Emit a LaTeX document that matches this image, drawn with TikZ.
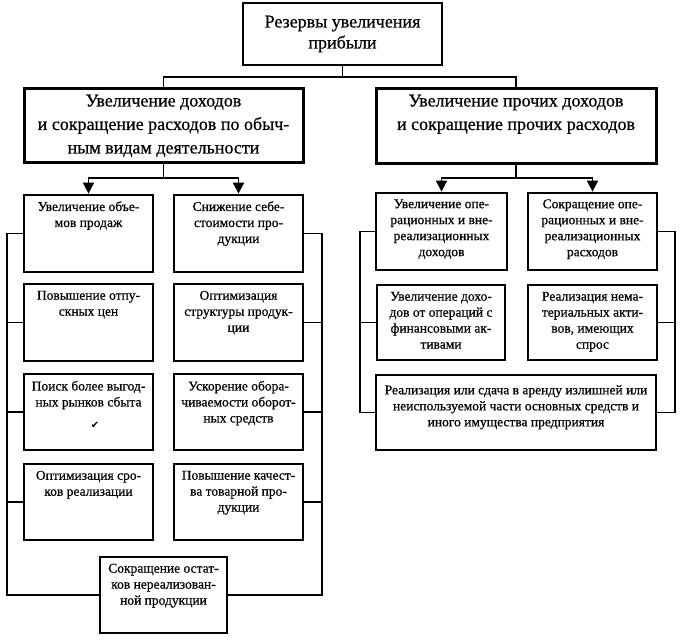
\documentclass[tikz,border=0pt]{standalone}
\usepackage{fontspec}
\setmainfont{Liberation Serif}[FakeBold=0.6]
\newfontfamily\symfont{DejaVu Sans}
\usetikzlibrary{arrows.meta}

\begin{document}
\begin{tikzpicture}[x=1pt,y=-1pt,
    box/.style={draw, line width=1.8pt, minimum width=129pt, minimum height=76pt, inner sep=0pt},
    heavy/.style={box, line width=2.8pt},
    txt/.style={anchor=north, align=center, font=\fontsize{13.5}{16}\selectfont, inner sep=7.5pt},
    bigtxt/.style={anchor=north, align=center, font=\fontsize{18}{23.5}\selectfont, inner sep=8pt},
    link/.style={line width=1.8pt},
    arr/.style={link, -{Triangle[width=11pt,length=11pt]}}]
      \useasboundingbox (0,0) rectangle (684,641);
      % top level
      \node[heavy, minimum width=199pt, minimum height=62pt, align=center, font=\fontsize{18}{21}\selectfont] (reserve) at (342.5,34) {Резервы увеличения\\прибыли};
      \node[heavy, line width=3pt, minimum width=279pt, minimum height=74pt, label={[bigtxt]north:{Увеличение доходов\\и сокращение расходов по обыч-\\ным видам деятельности}}] (ordinary) at (163.5,125) {};
      \node[heavy, line width=3pt, minimum width=280pt, minimum height=75pt, label={[bigtxt]north:{Увеличение прочих доходов\\и сокращение прочих расходов}}] (other) at (516,125.5) {};
      % left branch
      \node[heavy, minimum height=77pt, label={[txt]north:{Увеличение объе-\\мов продаж}}] (sales) at (88.5,233.5) {};
      \node[heavy, minimum height=77pt, label={[txt]north:{Снижение себе-\\стоимости про-\\дукции}}] (cost) at (238.5,233.5) {};
      \node[box, minimum height=77pt, label={[txt]north:{Повышение отпу-\\скных цен}}] (price) at (88.5,322.5) {};
      \node[box, minimum height=77pt, label={[txt]north:{Оптимизация\\структуры продук-\\ции}}] (structure) at (238.5,322.5) {};
      \node[box, label={[txt]north:{Поиск более выгод-\\ных рынков сбыта}}] (market) at (88.5,412) {};
      \node[box, label={[txt]north:{Ускорение обора-\\чиваемости оборот-\\ных средств}}] (turnover) at (238.5,412) {};
      \node[box, label={[txt]north:{Оптимизация сро-\\ков реализации}}] (term) at (88.5,502) {};
      \node[box, label={[txt]north:{Повышение качест-\\ва товарной про-\\дукции}}] (quality) at (238.5,502) {};
      \node[box, line width=2pt, minimum width=127pt, label={[txt]north:{Сокращение остат-\\ков нереализован-\\ной продукции}}] (stock) at (163.5,595) {};
      \node[font=\symfont\fontsize{10}{10}\selectfont] (tick) at (95,425) {✔};
      % right branch
      \node[heavy, minimum width=131pt, minimum height=77pt, label={[txt]north:{Увеличение опе-\\рационных и вне-\\реализационных\\доходов}}] (opinc) at (441.5,231.5) {};
      \node[heavy, minimum height=77pt, label={[txt]north:{Сокращение опе-\\рационных и вне-\\реализационных\\расходов}}] (opexp) at (592.5,231.5) {};
      \node[box, minimum width=128pt, minimum height=75pt, label={[txt]north:{Увеличение дохо-\\дов от операций с\\финансовыми ак-\\тивами}}] (finance) at (441,322.5) {};
      \node[box, minimum height=75pt, label={[txt]north:{Реализация нема-\\териальных акти-\\вов, имеющих\\спрос}}] (intang) at (592.5,322.5) {};
      \node[box, line width=2.2pt, minimum width=280pt, minimum height=75pt, label={[txt, inner sep=11pt]north:{Реализация или сдача в аренду излишней или\\неиспользуемой части основных средств и\\иного имущества предприятия}}] (assets) at (516,412.5) {};
      % connectors
      \coordinate (topj) at (342.5,77);
      \draw[link] (reserve.south) -- (topj);
      \draw[link] (topj) -| (ordinary.north);
      \draw[link] (topj) -| (other.north);
      \coordinate (lj) at (163.5,178);
      \draw[link] (ordinary.south) -- (lj);
      \draw[arr] (lj) -| (sales.north);
      \draw[arr] (lj) -| (cost.north);
      \coordinate (rj) at (516,178);
      \draw[link] (other.south) -- (rj);
      \draw[arr] (rj) -| (opinc.north);
      \draw[arr] (rj) -| (opexp.north);
      % brackets
      \coordinate (lsp) at (7,595);
      \coordinate (rsp) at (322,595);
      \draw[link] (sales.west) -| (lsp) -- (stock.west);
      \draw[link] (cost.east) -| (rsp) -- (stock.east);
      \foreach \b in {price,market,term} \draw[link] (\b.west) -- (\b.west -| lsp);
      \foreach \b in {structure,turnover,quality} \draw[link] (\b.east) -- (\b.east -| rsp);
      \coordinate (olsp) at (360,412.5);
      \coordinate (orsp) at (675,412.5);
      \draw[link] (opinc.west) -| (olsp) -- (assets.west);
      \draw[link] (opexp.east) -| (orsp) -- (assets.east);
      \draw[link] (finance.west) -- (finance.west -| olsp);
      \draw[link] (intang.east) -- (intang.east -| orsp);
\end{tikzpicture}
\end{document}
